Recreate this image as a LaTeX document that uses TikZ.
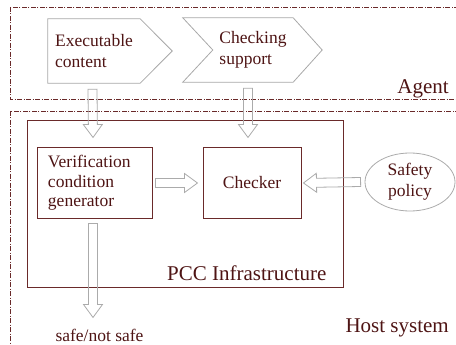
\documentclass[tikz,border=0pt]{standalone}
\usepackage{fontspec}
\setmainfont{Liberation Serif}
\usetikzlibrary{calc,shapes.geometric}
\definecolor{txtc}{HTML}{4E1414}
\definecolor{boxline}{HTML}{6A2A2A}
\definecolor{arrgray}{HTML}{ABABAB}
\definecolor{chevgray}{HTML}{A8A8A8}
\newcommand{\hollowarr}[2]{%
  \coordinate (ha-h) at ($(#2)!13pt!(#1)$);
  \draw[hollow] ($(#1)!4.5pt!90:(#2)$) -- ($(ha-h)!4.5pt!90:(#2)$) -- ($(ha-h)!9.5pt!90:(#2)$) -- (#2)
    -- ($(ha-h)!9.5pt!-90:(#2)$) -- ($(ha-h)!4.5pt!-90:(#2)$) -- ($(#1)!4.5pt!-90:(#2)$) -- cycle;
}
\tikzset{
  small/.style={text=txtc, font=\fontsize{17.5}{19.5}\selectfont, inner sep=0pt},
  wide/.style={text=txtc, font=\fontsize{17.5}{21}\selectfont, inner sep=0pt},
  big/.style={text=txtc, font=\fontsize{21}{24}\selectfont, inner sep=0pt},
  hollow/.style={draw=arrgray, line width=0.8pt, line join=miter},
  chev/.style={draw=chevgray, line width=0.8pt},
  region/.style={draw=boxline, line width=0.8pt, dash pattern=on 5pt off 1.5pt on 1pt off 1.5pt},
  procbox/.style={draw=boxline, line width=1pt, small, minimum height=70pt},
}
\begin{document}
\begin{tikzpicture}[x=1pt,y=-1pt]
\useasboundingbox (0,0) rectangle (456,345);
\clip (0,0) rectangle (456,345);
% regions
\draw[region] (10,7) rectangle (480,99);
\draw[region] (10,111) rectangle (480,370);
% PCC infrastructure box
\node[draw=boxline, line width=1pt, minimum width=316pt, minimum height=166pt, inner sep=0pt] (pcc) at (185,204) {};
\node[big, anchor=base west] (pccl) at (167,280) {PCC Infrastructure};
% agent chevrons
\node[wide, align=left, minimum width=92pt, minimum height=64pt] (ec) at (94,51) {Executable\\content};
\draw[chev] (ec.north west) -- (ec.north east) -- ($(ec.east)+(32,0)$) -- (ec.south east) -- (ec.south west) -- cycle;
\node[wide, align=left, minimum width=80pt, minimum height=64pt] (cs) at (253,50) {Checking\\support};
\draw[chev] ($(cs.north west)+(-30,0)$) -- (cs.north east) -- ($(cs.east)+(29,0)$) -- (cs.south east) -- ($(cs.south west)+(-30,0)$) -- (cs.west) -- cycle;
\node[big, anchor=base east] (agent) at (449,94) {Agent};
% host components
\node[procbox, align=left, minimum width=115pt, text width=93pt, inner xsep=11pt] (vc) at (94.5,183) {Verification\\condition\\generator};
\node[procbox, minimum width=98pt] (chk) at (252,183) {Checker};
\node[wide, draw=arrgray, line width=0.8pt, ellipse, align=center, minimum width=90pt, minimum height=58pt] (sp) at (410,182) {Safety\\policy};
\node[small, anchor=base] (out) at (99.5,341) {safe/not safe};
\node[big, anchor=base east] (host) at (449,332) {Host system};
% connectors
\coordinate (s1) at ($(ec.south)+(-1.5,6)$);
\coordinate (e1) at ($(vc.north)+(-1.5,-10)$);
\hollowarr{s1}{e1}
\coordinate (s2) at ($(cs.south)+(-5,6)$);
\coordinate (e2) at ($(chk.north)+(-4,-10)$);
\hollowarr{s2}{e2}
\coordinate (s3) at ($(vc.east)+(3,0)$);
\coordinate (e3) at ($(chk.west)+(-5,0)$);
\hollowarr{s3}{e3}
\coordinate (s4) at ($(sp.west)+(-4,0)$);
\coordinate (e4) at ($(chk.east)+(2,0)$);
\hollowarr{s4}{e4}
\coordinate (s5) at ($(vc.south)+(-1.5,5)$);
\coordinate (e5) at ($(out.north)+(-6.5,-11)$);
\hollowarr{s5}{e5}
\end{tikzpicture}
\end{document}
